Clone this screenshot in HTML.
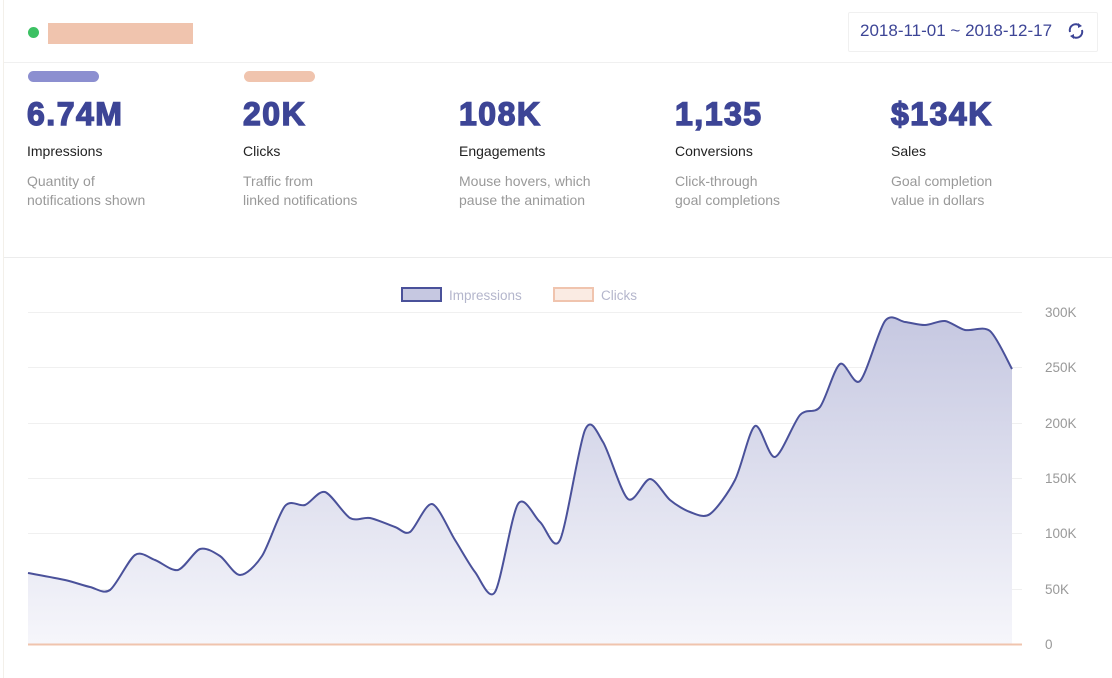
<!DOCTYPE html>
<html><head><meta charset="utf-8"><style>
body{margin:0;width:1112px;height:678px;background:#fff;font-family:"Liberation Sans",sans-serif;position:relative;overflow:hidden}
.a{position:absolute}
.num{font-size:32px;font-weight:900;color:#3d4596;letter-spacing:1.5px;-webkit-text-stroke:1.4px #3d4596}
.lab{font-size:14px;color:#222}
.desc{font-size:14px;color:#999;line-height:19px}
</style></head><body>
<div class="a" style="left:3px;top:0;width:1px;height:678px;background:#f3f0ea"></div>
<div class="a" style="left:28px;top:27px;width:11px;height:11px;border-radius:50%;background:#3cc163"></div>
<div class="a" style="left:48px;top:23px;width:145px;height:21px;background:#f0c4ae"></div>
<div class="a" style="left:848px;top:12px;width:248px;height:38px;border:1px solid #f0f0f0;border-radius:2px"></div>
<div class="a" style="left:860px;top:21px;font-size:17px;color:#3d4596">2018-11-01 ~ 2018-12-17</div>
<svg class="a" style="left:1066px;top:21px" width="20" height="20" viewBox="0 0 20 20"><path d="M4 11 A6 6 0 0 1 14 5" fill="none" stroke="#3d4596" stroke-width="2"/><path d="M16 9 A6 6 0 0 1 6 15" fill="none" stroke="#3d4596" stroke-width="2"/><path d="M12 2 L16 5 L12 7Z M8 13 L4 15 L8 18Z" fill="#3d4596"/></svg>
<div class="a" style="left:4px;top:62px;width:1108px;height:1px;background:#f0f0f0"></div>
<div class="a" style="left:4px;top:257px;width:1108px;height:1px;background:#ececec"></div>
<div class="a" style="left:28px;top:71px;width:71px;height:11px;border-radius:6px;background:#8c8fd0"></div>
<div class="a" style="left:244px;top:71px;width:71px;height:11px;border-radius:6px;background:#f0c4ae"></div>

<div class="a num" style="left:27px;top:96px">6.74M</div>
<div class="a num" style="left:243px;top:96px">20K</div>
<div class="a num" style="left:459px;top:96px">108K</div>
<div class="a num" style="left:675px;top:96px">1,135</div>
<div class="a num" style="left:891px;top:96px">$134K</div>
<div class="a lab" style="left:27px;top:143px">Impressions</div>
<div class="a lab" style="left:243px;top:143px">Clicks</div>
<div class="a lab" style="left:459px;top:143px">Engagements</div>
<div class="a lab" style="left:675px;top:143px">Conversions</div>
<div class="a lab" style="left:891px;top:143px">Sales</div>
<div class="a desc" style="left:27px;top:172px">Quantity of<br>notifications shown</div>
<div class="a desc" style="left:243px;top:172px">Traffic from<br>linked notifications</div>
<div class="a desc" style="left:459px;top:172px">Mouse hovers, which<br>pause the animation</div>
<div class="a desc" style="left:675px;top:172px">Click-through<br>goal completions</div>
<div class="a desc" style="left:891px;top:172px">Goal completion<br>value in dollars</div>

<svg class="a" style="left:0;top:0" width="1112" height="678">
<defs><linearGradient id="g" x1="0" y1="0" x2="0" y2="1"><stop offset="0" stop-color="#c6c8e1"/><stop offset="1" stop-color="#f6f6fb"/></linearGradient></defs>
<g stroke="#f0f0f0" stroke-width="1">
<line x1="28" x2="1022" y1="312.5" y2="312.5"/><line x1="28" x2="1022" y1="367.5" y2="367.5"/><line x1="28" x2="1022" y1="423.5" y2="423.5"/><line x1="28" x2="1022" y1="478.5" y2="478.5"/><line x1="28" x2="1022" y1="533.5" y2="533.5"/><line x1="28" x2="1022" y1="589.5" y2="589.5"/>
</g>
<path id="area" fill="url(#g)"/>
<path id="line" fill="none" stroke="#4a519a" stroke-width="2"/>
<line x1="28" x2="1022" y1="644.5" y2="644.5" stroke="#f0c4ae" stroke-width="2"/>
<g font-size="13.5" fill="#999" font-family="Liberation Sans">
<text x="1045" y="317">300K</text><text x="1045" y="372">250K</text><text x="1045" y="428">200K</text><text x="1045" y="483">150K</text><text x="1045" y="538">100K</text><text x="1045" y="594">50K</text><text x="1045" y="649">0</text>
</g>
<rect x="402" y="288" width="39" height="13" fill="#c6c8e1" stroke="#4a519a" stroke-width="2"/>
<text x="449" y="300" font-size="13.5" fill="#b4b6cc" font-family="Liberation Sans">Impressions</text>
<rect x="554" y="288" width="39" height="13" fill="#faebe3" stroke="#f0c4ae" stroke-width="2"/>
<text x="601" y="300" font-size="13.5" fill="#b4b6cc" font-family="Liberation Sans">Clicks</text>
</svg>
<script>
var p=[[28,573],[65,580],[90,587],[110,590],[135,555],[155,560],[178,570],[200,549],[220,556],[240,575],[262,556],[285,506],[305,505],[325,492],[350,518],[370,518],[395,527],[410,532],[432,504],[455,540],[475,572],[495,592],[518,504],[540,522],[560,540],[585,430],[603,442],[628,499],[650,479],[670,500],[690,512],[710,514],[735,480],[755,426],[775,457],[800,415],[820,407],[840,364],[860,381],[885,321],[905,322],[925,325],[945,321],[965,330],[990,331],[1012,369]];
var d="M"+p[0].join(",");
for(var i=0;i<p.length-1;i++){var a=p[i-1]||p[i],b=p[i],c=p[i+1],e=p[i+2]||c;
d+=" C"+(b[0]+(c[0]-a[0])/7)+","+(b[1]+(c[1]-a[1])/7)+" "+(c[0]-(e[0]-b[0])/7)+","+(c[1]-(e[1]-b[1])/7)+" "+c[0]+","+c[1];}
document.getElementById("line").setAttribute("d",d);
document.getElementById("area").setAttribute("d",d+" L1012,644 L28,644Z");
</script>
</body></html>
